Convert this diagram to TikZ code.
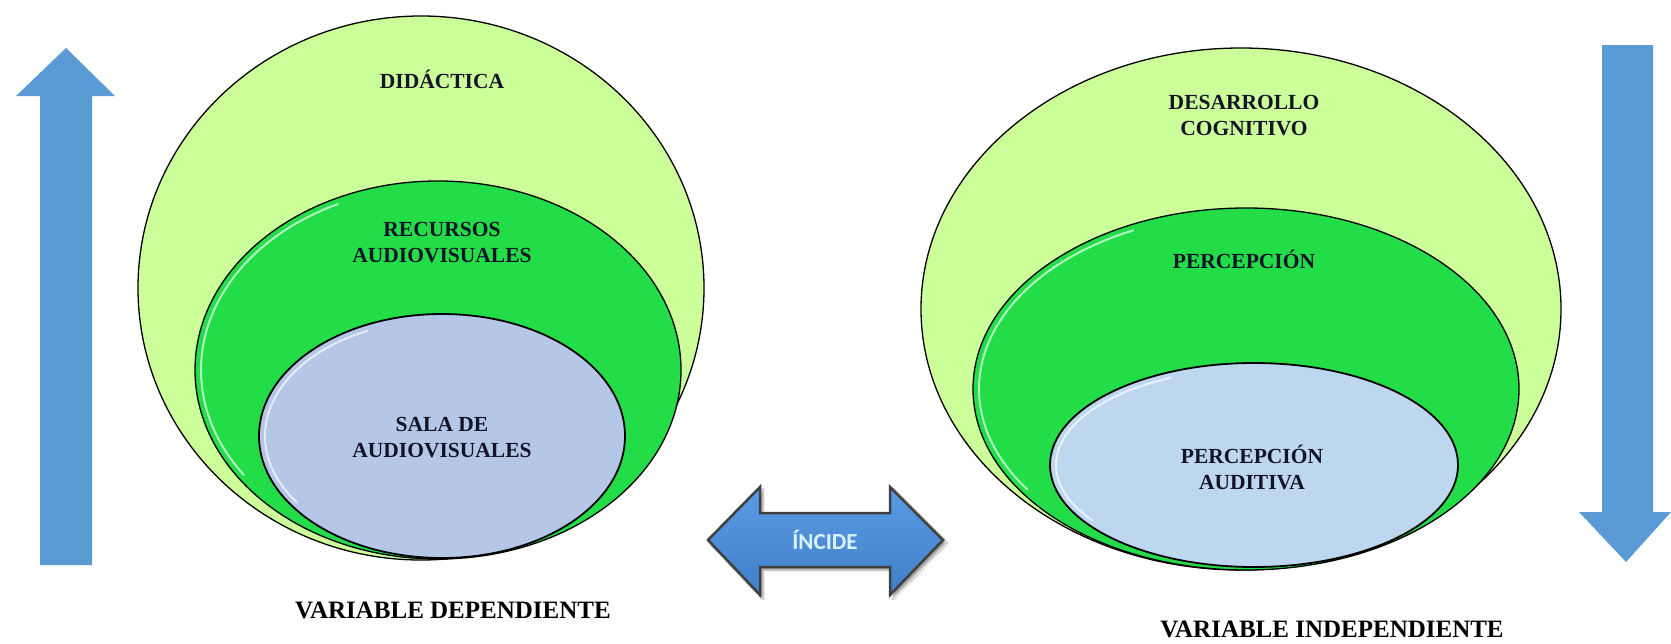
\documentclass[tikz,border=0pt]{standalone}
\usepackage{fontspec}
\setmainfont{Liberation Serif}
\newfontfamily\calib{Carlito}
\usetikzlibrary{shapes.geometric,shadows.blur}
\definecolor{lgreen}{HTML}{CCFF99}
\definecolor{mgreen}{HTML}{22DD48}
\definecolor{lblue}{HTML}{B4C7E7}
\definecolor{rblue}{HTML}{BDD7EE}
\definecolor{arrowblue}{HTML}{5B9BD5}
\definecolor{dbluetop}{HTML}{5A9CE4}
\definecolor{dbluebot}{HTML}{3F7FC8}
\definecolor{txt}{HTML}{141428}
\newcommand\glint[3]{%
  \begin{scope}[shift={(#1)}]
    \draw[white, line width=2pt, opacity=.65, line cap=round]
      (145:{#2-6} and {#3-6}) arc[start angle=145, end angle=245, x radius={#2-6}, y radius={#3-6}];
  \end{scope}}
\begin{document}
\begin{tikzpicture}[x=1pt,y=-1pt,
  ring/.style={ellipse, draw=black, line width=1.3pt, inner sep=0},
  lbl/.style={font=\bfseries\fontsize{21.5}{26}\selectfont, text=txt, align=center, inner sep=0},
  varlbl/.style={font=\bfseries\fontsize{25}{30}\selectfont, text=black, inner sep=0},
  bigarrow/.style={fill=arrowblue, draw=none}]
\useasboundingbox (0,0) rectangle (1671,643);
\fill[white] (0,0) rectangle (1671,643);

% vertical arrows
\fill[bigarrow] (66,48) -- (115,96) -- (92,96) -- (92,565) -- (40,565) -- (40,96) -- (16,96) -- cycle;
\fill[bigarrow] (1602,45) -- (1653,45) -- (1653,512) -- (1671,512) -- (1626,562) -- (1579,512) -- (1602,512) -- cycle;

% left ellipses
\node[ring, fill=lgreen, minimum width=566pt, minimum height=544pt] (lo) at (421,288) {};
\node[ring, fill=mgreen, minimum width=486pt, minimum height=378pt] (lm) at (438,370) {};
\glint{438,370}{243}{189}
\node[ring, fill=lblue, line width=1.8pt, minimum width=366pt, minimum height=244pt] (li) at (442,436) {};
\glint{442,436}{183}{122}

% right ellipses
\node[ring, fill=lgreen, minimum width=640pt, minimum height=522pt] (ro) at (1241,309) {};
\node[ring, fill=mgreen, minimum width=546pt, minimum height=362pt] (rm) at (1246,389) {};
\glint{1246,389}{273}{181}
\node[ring, fill=rblue, line width=1.8pt, minimum width=408pt, minimum height=204pt] (ri) at (1254,465) {};
\glint{1254,465}{204}{102}

% texts
\node[lbl] (t1) at (442,79) {DIDÁCTICA};
\node[lbl] (t2) at (442,243) {RECURSOS\\AUDIOVISUALES};
\node[lbl] (t3) at (442,438) {SALA DE\\AUDIOVISUALES};
\node[lbl] (t4) at (1244,116) {DESARROLLO\\COGNITIVO};
\node[lbl] (t5) at (1244,259) {PERCEPCIÓN};
\node[lbl] (t6) at (1252,467) {PERCEPCIÓN\\AUDITIVA};
\node[varlbl] (v1) at (453,610) {VARIABLE DEPENDIENTE};
\node[varlbl] (v2) at (1332,629) {VARIABLE INDEPENDIENTE};

% double arrow
\draw[top color=dbluetop, bottom color=dbluebot, draw=black!75, line width=2.5pt, line join=miter,
      blur shadow={shadow xshift=3pt, shadow yshift=-3pt, shadow blur steps=6}]
  (708,540) -- (760,487) -- (760,513) -- (890,513) -- (890,487) -- (943,540)
  -- (890,595) -- (890,567) -- (760,567) -- (760,595) -- cycle;
\node[font=\calib\bfseries\fontsize{23}{27}\selectfont, text=white!85!cyan] (inc) at (825,540) {ÍNCIDE};
\end{tikzpicture}
\end{document}
